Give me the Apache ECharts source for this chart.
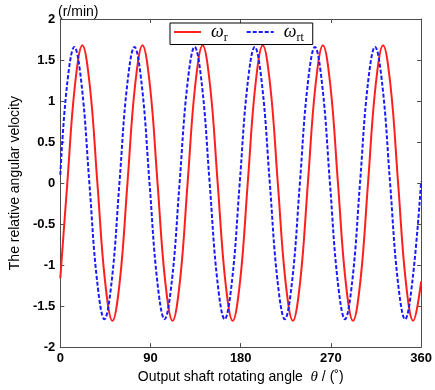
<!DOCTYPE html>
<html>
<head>
<meta charset="utf-8">
<script src="https://cdn.jsdelivr.net/npm/echarts@6/dist/echarts.min.js"></script>
<style>
  html, body { margin: 0; padding: 0; background: #fff; }
  #main { width: 435px; height: 390px; }
</style>
</head>
<body>
<div id="main"></div>
<script>
// values (theta in degrees, omega in r/min)
var redTheta = [0, 7, 14.5, 22, 29.5, 37, 44.5, 52, 59.5, 67, 74.5, 82, 89.5, 97, 104.5, 112, 119.5,
  127, 134.5, 142, 149.5, 157, 164.5, 172, 179.5, 187, 194.5, 202, 209.5, 217, 224.5, 232, 239.5,
  247, 254.5, 262, 269.5, 277, 284.5, 292, 299.5, 307, 314.5, 322, 329.5, 337, 344.5, 352, 360];
var redOmega = [-1.16, 0, 1.18, 1.68, 1.18, 0, -1.18, -1.68, -1.18, 0, 1.18, 1.68, 1.18, 0, -1.18, -1.68, -1.18,
  0, 1.18, 1.68, 1.18, 0, -1.18, -1.68, -1.18, 0, 1.18, 1.68, 1.18, 0, -1.18, -1.68, -1.18,
  0, 1.18, 1.68, 1.18, 0, -1.18, -1.68, -1.18, 0, 1.18, 1.68, 1.18, 0, -1.18, -1.68, -1.2];
var blueTheta = [0, 6.5, 14, 21.5, 29, 36.5, 44, 51.5, 59, 66.5, 74, 81.5, 89, 96.5, 104, 111.5, 119,
  126.5, 134, 141.5, 149, 156.5, 164, 171.5, 179, 186.5, 194, 201.5, 209, 216.5, 224, 231.5, 239,
  246.5, 254, 261.5, 269, 276.5, 284, 291.5, 299, 306.5, 314, 321.5, 329, 336.5, 344, 351.5, 360];
var blueOmega = [0.1, 1.17, 1.66, 1.17, 0, -1.17, -1.66, -1.17, 0, 1.17, 1.66, 1.17, 0, -1.17, -1.66, -1.17, 0,
  1.17, 1.66, 1.17, 0, -1.17, -1.66, -1.17, 0, 1.17, 1.66, 1.17, 0, -1.17, -1.66, -1.17, 0,
  1.17, 1.66, 1.17, 0, -1.17, -1.66, -1.17, 0, 1.17, 1.66, 1.17, 0, -1.17, -1.66, -1.17, 0.02];
var xTicks = [0, 90, 180, 270, 360];
var yTicks = [-2, -1.5, -1, -0.5, 0, 0.5, 1, 1.5, 2];

function zip(a, b) {
  var out = [];
  for (var i = 0; i < a.length; i++) out.push([a[i], b[i]]);
  return out;
}

var chart = echarts.init(document.getElementById('main'));
var axisColor = '#4d4d4d';
var font = 'Liberation Sans, Arial, sans-serif';
var serif = 'Liberation Serif, Times New Roman, serif';

function frameAxis(extra) {
  var base = {
    type: 'value',
    axisLine: { show: true, onZero: false, lineStyle: { color: axisColor, width: 1 } },
    axisTick: { show: true, inside: true, length: 4, lineStyle: { color: axisColor } },
    splitLine: { show: false }
  };
  for (var k in extra) base[k] = extra[k];
  return base;
}

var option = {
  backgroundColor: '#ffffff',
  animation: false,
  textStyle: { fontFamily: font },
  title: {
    text: '(r/min)',
    left: 53, top: 0,
    textStyle: { fontSize: 14, fontWeight: 'normal', color: '#000', fontFamily: font }
  },
  grid: { left: 52, right: 11, top: 19, bottom: 40, containLabel: false },
  legend: {
    top: 23, left: 170,
    itemWidth: 27, itemHeight: 10, itemGap: 18,
    padding: [0, 9, 1, 3],
    borderColor: '#000', borderWidth: 1, borderRadius: 0,
    backgroundColor: '#fff',
    itemStyle: { opacity: 0 },
    data: ['r', 'rt'],
    formatter: function (n) { return '{w|ω}{s|' + n + '}'; },
    textStyle: {
      rich: {
        w: { fontFamily: serif, fontStyle: 'italic', fontSize: 18, color: '#000', padding: [0, 0, 0, 5] },
        s: { fontFamily: serif, fontSize: 12, color: '#000', padding: [11, 0, 0, 0] }
      }
    }
  },
  xAxis: [frameAxis({
    min: 0, max: 360, interval: 90,
    name: 'Output shaft rotating angle  {t|θ} / (˚)',
    nameLocation: 'middle', nameGap: 21,
    nameTextStyle: {
      fontSize: 14, color: '#000', fontFamily: font,
      rich: { t: { fontFamily: serif, fontStyle: 'italic', fontSize: 15, color: '#000' } }
    },
    axisLabel: { fontSize: 13, fontWeight: 'bold', color: '#000', margin: 5,
      formatter: function (v) { return xTicks.indexOf(v) >= 0 ? String(v) : ''; } }
  }), frameAxis({
    position: 'top', min: 0, max: 360, interval: 90,
    axisLabel: { show: false }
  })],
  yAxis: [frameAxis({
    min: -2, max: 2, interval: 0.5,
    name: 'The relative angular velocity',
    nameLocation: 'middle', nameGap: 29,
    nameTextStyle: { fontSize: 14, color: '#000', fontFamily: font },
    axisLabel: { fontSize: 13, fontWeight: 'bold', color: '#000', margin: 5,
      formatter: function (v) { return yTicks.indexOf(v) >= 0 ? String(v) : ''; } }
  }), frameAxis({
    position: 'right', min: -2, max: 2, interval: 0.5,
    axisLabel: { show: false }
  })],
  series: [{
    name: 'r', type: 'line', smooth: 0.4, symbol: 'none',
    data: zip(redTheta, redOmega),
    lineStyle: { color: '#ff1f1f', width: 2 },
    itemStyle: { color: '#ff1f1f' }
  }, {
    name: 'rt', type: 'line', smooth: 0.4, symbol: 'none',
    data: zip(blueTheta, blueOmega),
    lineStyle: { color: '#1a1aff', width: 2, type: [4, 2] },
    itemStyle: { color: '#1a1aff' }
  }]
};
chart.setOption(option);
</script>
</body>
</html>
